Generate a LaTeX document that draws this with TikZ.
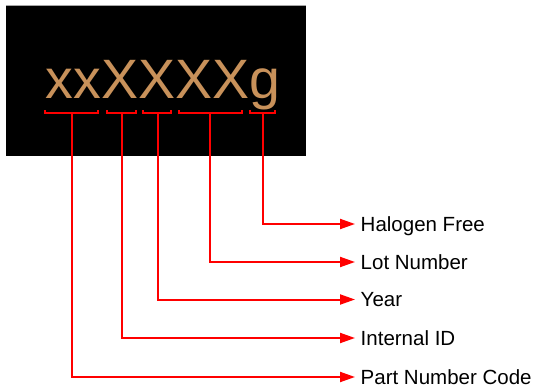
\documentclass[tikz,border=0pt]{standalone}
\usepackage{fontspec}
\setmainfont{Liberation Sans}
\usetikzlibrary{arrows.meta}
\definecolor{tan}{RGB}{200,145,90}
\definecolor{lred}{RGB}{255,0,0}
\begin{document}
\begin{tikzpicture}[x=1pt,y=-1pt,
  bracket/.style={draw=lred,line width=2pt},
  leader/.style={draw=lred,line width=2pt,-{Triangle[length=15pt,width=10pt]}},
  lbl/.style={anchor=base west,inner sep=0pt,font=\fontsize{20.5}{23}\selectfont}]
\useasboundingbox (0,0) rectangle (538,388);
\fill[black] (6,5) rectangle (305.5,155.5);
\draw[gray!70,line width=0.8pt] (6,5.4) -- (305.5,5.4);
\node[anchor=base west,inner sep=0pt,text=tan,font=\fontsize{55.5}{60}\selectfont] (code) at (45.5,98.3) {xxXXXXg};
% labels
\node[lbl] (hf) at (360.5,231) {Halogen Free};
\node[lbl] (lot) at (360.5,269) {Lot Number};
\node[lbl] (yr) at (360.5,306.5) {Year};
\node[lbl] (iid) at (360.5,345) {Internal ID};
\node[lbl] (pnc) at (360.5,384) {Part Number Code};
% arrow tips
\coordinate (thf) at (355,224);
\coordinate (tlot) at (355,262);
\coordinate (tyr) at (355,299.5);
\coordinate (tiid) at (355,338);
\coordinate (tpnc) at (355,377);
% brackets
\draw[bracket] (45,110) -- (45,113) -- (98,113) -- (98,110);
\draw[bracket] (107,110) -- (107,113) -- (136,113) -- (136,110);
\draw[bracket] (143,110) -- (143,113) -- (171,113) -- (171,110);
\draw[bracket] (179,110) -- (179,113) -- (242,113) -- (242,110);
\draw[bracket] (250,110) -- (250,113) -- (275,113) -- (275,110);
\coordinate (bpnc) at (72,113);
\coordinate (biid) at (122,113);
\coordinate (byr) at (158,113);
\coordinate (blot) at (210,113);
\coordinate (bhf) at (263,113);
% leaders
\draw[leader] (bhf) |- (thf);
\draw[leader] (blot) |- (tlot);
\draw[leader] (byr) |- (tyr);
\draw[leader] (biid) |- (tiid);
\draw[leader] (bpnc) |- (tpnc);
\end{tikzpicture}
\end{document}
